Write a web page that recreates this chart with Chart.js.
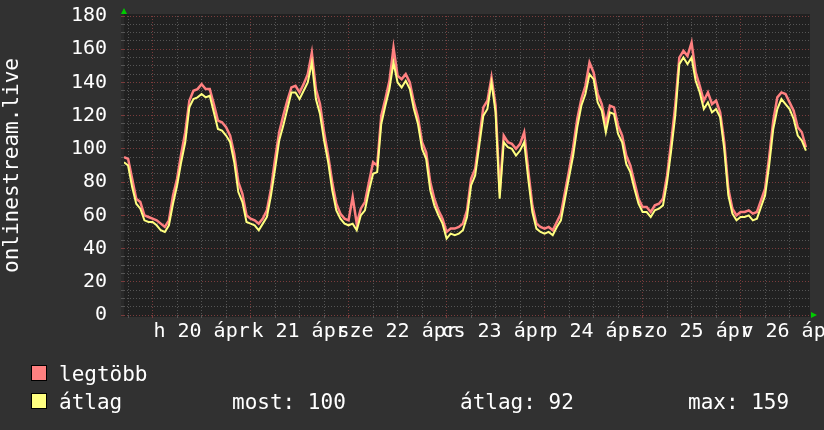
<!DOCTYPE html>
<html lang="hu">
<head>
<meta charset="UTF-8">
<title>onlinestream.live</title>
<script src="https://cdn.jsdelivr.net/npm/chart.js"></script>
<style>
  html, body { margin: 0; padding: 0; background: #313131; }
  #wrap { width: 824px; height: 430px; }
</style>
</head>
<body>
<div id="wrap"><canvas id="chart" width="824" height="430"></canvas></div>
<script>
    // hours from 20 ápr 00:00, one sample per hour (first one = 19 ápr 17:00)
    const startHour = -7;

    const avgValues = [
        92, 90, 77, 67, 64, 57, 56,
        56, 54, 51, 50, 54, 67, 78, 92, 104, 125, 130, 131,
        133, 131, 132, 122, 112, 111, 108, 104, 92, 74, 68, 56,
        55, 54, 51, 55, 59, 72, 88, 105, 114, 124, 134, 134,
        130, 135, 140, 152, 130, 121, 105, 92, 75, 63, 58, 55,
        54, 55, 51, 60, 63, 75, 85, 86, 115, 126, 136, 152,
        140, 137, 141, 136, 124, 115, 100, 94, 75, 66, 60, 55,
        46, 49, 48, 49, 51, 59, 78, 84, 102, 120, 124, 140,
        122, 70, 104, 101, 100, 96, 99, 104, 82, 62, 52, 50,
        49, 50, 48, 53, 57, 70, 83, 96, 113, 126, 133, 145,
        142, 128, 123, 110, 122, 121, 109, 104, 91, 86, 76, 67,
        62, 62, 59, 63, 64, 66, 80, 99, 120, 151, 155, 151,
        155, 141, 134, 124, 128, 122, 124, 119, 100, 72, 61, 57,
        59, 59, 60, 57, 58, 65, 72, 90, 112, 124, 130, 127,
        124, 118, 108, 105, 99
    ];

    const maxValues = [
        95, 94, 82, 70, 68, 60, 59,
        58, 57, 55, 53, 57, 72, 82, 97, 110, 129, 135, 136,
        139, 136, 136, 127, 117, 116, 113, 108, 97, 80, 73, 60,
        58, 57, 55, 58, 63, 76, 94, 110, 120, 129, 137, 138,
        134, 139, 145, 158, 136, 127, 110, 96, 80, 67, 61, 58,
        57, 71, 55, 64, 68, 80, 92, 90, 120, 130, 141, 161,
        144, 142, 145, 140, 128, 119, 104, 98, 80, 70, 63, 58,
        50, 52, 52, 53, 55, 63, 82, 88, 106, 125, 129, 143,
        126, 74, 108, 104, 103, 100, 103, 110, 87, 66, 55, 53,
        52, 53, 51, 56, 61, 74, 87, 101, 118, 130, 138, 152,
        146, 133, 127, 115, 126, 125, 114, 108, 96, 90, 80, 70,
        65, 65, 62, 66, 67, 70, 84, 104, 126, 155, 159, 156,
        164, 146, 138, 129, 134, 127, 129, 122, 104, 76, 64, 60,
        62, 62, 63, 61, 62, 69, 76, 95, 117, 131, 134, 133,
        128, 123, 113, 110, 101
    ];

    const dayLabels = ['h 20 ápr', 'k 21 ápr', 'sze 22 ápr', 'cs 23 ápr', 'p 24 ápr', 'szo 25 ápr', 'v 26 ápr'];
    const dayLabelHours = [12, 36, 60, 84, 108, 132, 156];

    const statNow = 100;
    const statAvg = 92;
    const statMax = 159;

    const RED = '#ff8080';
    const YELLOW = '#ffff80';
    const GRID_MAJOR = '#7a3c3c';
    const GRID_MINOR = '#555555';
    const FONT = 'DejaVu Sans Mono';

    const toPoints = arr => arr.map((v, i) => ({ x: startHour + i, y: v }));

    // x grid every 6 hours, y grid every 5
    const xTicks = [];
    for (let h = -6; h <= 160; h += 6) xTicks.push({ value: h });
    const yTicks = [];
    for (let v = 0; v <= 180; v += 5) yTicks.push({ value: v });

    const plotBackground = {
        id: 'plotBackground',
        beforeDraw(chart) {
            const { ctx, chartArea: a } = chart;
            ctx.save();
            ctx.fillStyle = '#313131';
            ctx.fillRect(0, 0, chart.width, chart.height);
            ctx.fillStyle = '#212121';
            ctx.fillRect(a.left, a.top - 2, a.right - a.left, a.bottom - a.top + 4);
            ctx.fillStyle = '#2a2a2a';
            ctx.fillRect(a.left - 3, a.top - 2, 3, a.bottom - a.top + 4);
            ctx.restore();
        }
    };

    const rrdExtras = {
        id: 'rrdExtras',
        afterDraw(chart) {
            const { ctx, chartArea: a } = chart;
            ctx.save();
            // axis arrows
            ctx.fillStyle = '#00cc00';
            ctx.beginPath();
            ctx.moveTo(a.left - 3, a.top - 2);
            ctx.lineTo(a.left + 3, a.top - 2);
            ctx.lineTo(a.left, a.top - 8);
            ctx.fill();
            ctx.beginPath();
            ctx.moveTo(a.right + 1, a.bottom - 3);
            ctx.lineTo(a.right + 1, a.bottom + 3);
            ctx.lineTo(a.right + 7, a.bottom);
            ctx.fill();

            // legend swatches
            const sw = (y, c) => {
                ctx.fillStyle = c;
                ctx.fillRect(31.5, y + 0.5, 15, 15);
                ctx.strokeStyle = '#000';
                ctx.lineWidth = 1;
                ctx.strokeRect(31.5, y + 0.5, 15, 15);
            };
            sw(365, RED);
            sw(393, YELLOW);

            const txt = (s, x, y) => {
                ctx.fillStyle = '#ffffff';
                ctx.font = '21px "' + FONT + '"';
                ctx.textBaseline = 'alphabetic';
                ctx.fillText(s, x, y);
            };
            txt('legtöbb', 59, 381);
            txt('átlag', 59, 409);
            txt('most: ' + statNow, 232, 409);
            txt('átlag: ' + statAvg, 460, 409);
            txt('max: ' + statMax, 688, 409);
            ctx.restore();
        }
    };

    new Chart(document.getElementById('chart'), {
        type: 'line',
        data: {
            datasets: [
                {
                    label: 'átlag',
                    data: toPoints(avgValues),
                    borderColor: YELLOW,
                    borderWidth: 2,
                    pointRadius: 0,
                    tension: 0,
                    order: 1
                },
                {
                    label: 'legtöbb',
                    data: toPoints(maxValues),
                    borderColor: RED,
                    borderWidth: 2.5,
                    pointRadius: 0,
                    tension: 0,
                    order: 2
                }
            ]
        },
        options: {
            responsive: false,
            animation: false,
            layout: { padding: { left: 0, right: 14, top: 16, bottom: 0 } },
            plugins: { legend: { display: false }, tooltip: { enabled: false } },
            scales: {
                x: {
                    type: 'linear',
                    min: startHour,
                    max: startHour + 168,
                    afterBuildTicks: s => { s.ticks = xTicks.slice(); },
                    afterFit: s => { s.height = 115; s.paddingLeft = 0; s.paddingRight = 0; },
                    ticks: {
                        autoSkip: false,
                        maxRotation: 0,
                        minRotation: 0,
                        color: '#ffffff',
                        padding: 2,
                        font: { family: FONT, size: 20 },
                        callback: v => {
                            const i = dayLabelHours.indexOf(v);
                            return i >= 0 ? dayLabels[i] : '';
                        }
                    },
                    grid: {
                        color: c => (c.tick && c.tick.value % 24 === 0) ? GRID_MAJOR : GRID_MINOR,
                        lineWidth: 1,
                        tickLength: 3
                    },
                    border: { display: false, dash: [1, 2] }
                },
                y: {
                    min: 0,
                    max: 180,
                    afterBuildTicks: s => { s.ticks = yTicks.slice(); },
                    afterFit: s => { s.width = 124; s.paddingTop = 0; s.paddingBottom = 0; },
                    ticks: {
                        autoSkip: false,
                        color: '#ffffff',
                        padding: 14,
                        font: { family: FONT, size: 20 },
                        callback: v => (v % 20 === 0 ? v : '')
                    },
                    grid: {
                        color: c => (c.tick && c.tick.value % 20 === 0) ? GRID_MAJOR : GRID_MINOR,
                        lineWidth: 1,
                        tickLength: 3
                    },
                    border: { display: false, dash: [1, 2] },
                    title: {
                        display: true,
                        text: 'onlinestream.live',
                        color: '#ffffff',
                        font: { family: FONT, size: 21 },
                        padding: { top: 0, bottom: 0 }
                    }
                }
            }
        },
        plugins: [plotBackground, rrdExtras]
    });
</script>
</body>
</html>
